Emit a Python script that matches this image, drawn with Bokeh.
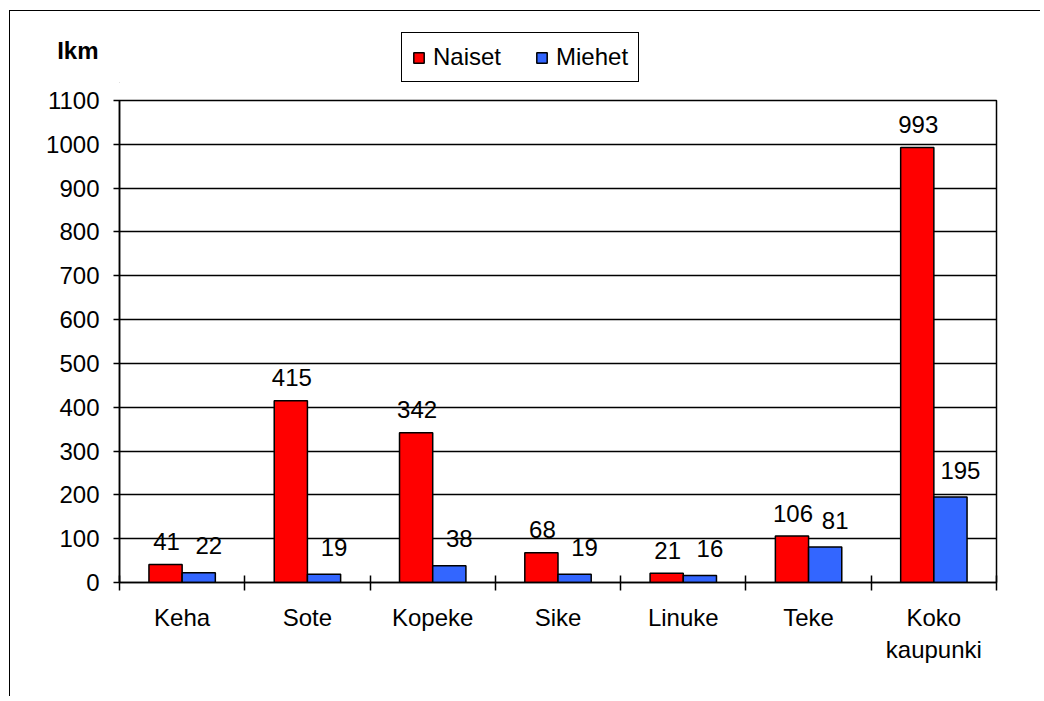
import numpy as np
from bokeh.plotting import figure
from bokeh.layouts import column
from bokeh.models import (ColumnDataSource, FixedTicker, LabelSet, Legend, LegendItem, Range1d)
from bokeh.core.properties import value
from bokeh.transform import dodge
from bokeh.embed import file_html
from bokeh.resources import INLINE

categories = ["Keha", "Sote", "Kopeke", "Sike", "Linuke", "Teke", "Koko\nkaupunki"]
naiset = [41, 415, 342, 68, 21, 106, 993]
miehet = [22, 19, 38, 19, 16, 81, 195]
y_ticks = list(range(0, 1101, 100))
series_names = ["Naiset", "Miehet"]
series_colors = ["#FF0000", "#3366FF"]
unit_label = "Ikm"

FONT = "Liberation Sans"
FS = "24px"
W = 1030
H1 = 72
H2 = 613
LEFT, RIGHT = 109, 44
FRAME_W = W - LEFT - RIGHT

# ---------- header strip: unit label + legend ----------
top = figure(width=W, height=H1, output_backend="svg", toolbar_location=None,
             x_range=Range1d(0, FRAME_W), y_range=Range1d(0, H1),
             min_border_left=LEFT, min_border_right=RIGHT, min_border_top=0, min_border_bottom=0)
top.xaxis.visible = False
top.grid.visible = False
top.outline_line_color = None
top.background_fill_color = "white"
top.border_fill_color = "white"
# unit label shown as the only tick label of an otherwise invisible left axis
top.yaxis.ticker = FixedTicker(ticks=[H1 - 39])
top.yaxis.major_label_overrides = {H1 - 39: unit_label}
top.yaxis.axis_line_color = None
top.yaxis.major_tick_line_color = None
top.yaxis.minor_tick_line_color = None
top.yaxis.major_tick_in = 0
top.yaxis.major_tick_out = 0
top.yaxis.major_label_standoff = 21
top.yaxis.major_label_text_font = FONT
top.yaxis.major_label_text_font_size = FS
top.yaxis.major_label_text_font_style = "bold"
top.yaxis.major_label_text_color = "black"

# legend proxies: one bar each, parked outside the header's visible range
proxy_src = ColumnDataSource(dict(x=[-10 * FRAME_W], top=[0]))
proxies = [top.vbar(x="x", top="top", width=1, source=proxy_src,
                    fill_color=c, line_color="black", line_width=1.5)
           for c in series_colors]
legend = Legend(items=[LegendItem(label=n, renderers=[r]) for n, r in zip(series_names, proxies)],
                orientation="horizontal", location=(282, 1),
                border_line_color="black", border_line_width=1.5, border_line_alpha=1.0,
                background_fill_color="white", background_fill_alpha=1.0,
                label_text_font=FONT, label_text_font_size=FS, label_text_color="black",
                glyph_width=13, glyph_height=13, label_standoff=8, spacing=34,
                padding=10, margin=0)
top.add_layout(legend, "center")

# ---------- main chart ----------
xc = np.arange(len(categories)) + 0.5
src = ColumnDataSource(dict(x=xc, cat=categories, naiset=naiset, miehet=miehet,
                            nl=[str(v) for v in naiset], ml=[str(v) for v in miehet]))

p = figure(width=W, height=H2, output_backend="svg", toolbar_location=None,
           x_range=Range1d(0, len(categories)), y_range=Range1d(0, 1100),
           min_border_left=LEFT, min_border_right=RIGHT, min_border_top=17, min_border_bottom=114)
p.outline_line_color = "black"
p.outline_line_width = 1.5
p.background_fill_color = "white"
p.border_fill_color = "white"

bw = 0.265
p.vbar(x=dodge("x", -bw / 2), top="naiset", width=bw, source=src,
       fill_color=series_colors[0], line_color="black", line_width=1.5)
p.vbar(x=dodge("x", bw / 2), top="miehet", width=bw, source=src,
       fill_color=series_colors[1], line_color="black", line_width=1.5)

p.add_layout(LabelSet(x=dodge("x", -bw / 2), y="naiset", text="nl", source=src,
                      text_align="center", text_baseline="middle", y_offset=23, x_offset=1,
                      text_font=value(FONT), text_font_size=value(FS), text_color="black"))
p.add_layout(LabelSet(x=dodge("x", bw / 2), y="miehet", text="ml", source=src,
                      text_align="center", text_baseline="middle", y_offset=27, x_offset=10,
                      text_font=value(FONT), text_font_size=value(FS), text_color="black"))

p.yaxis.ticker = FixedTicker(ticks=y_ticks)
p.yaxis.axis_line_color = "black"
p.yaxis.axis_line_width = 1.5
p.yaxis.major_tick_in = 0
p.yaxis.major_tick_out = 6
p.yaxis.major_tick_line_width = 1.5
p.yaxis.minor_tick_line_color = None
p.yaxis.major_label_text_font = FONT
p.yaxis.major_label_text_font_size = FS
p.yaxis.major_label_text_color = "black"
p.yaxis.major_label_standoff = 14

p.xaxis.ticker = FixedTicker(ticks=list(xc), minor_ticks=list(range(len(categories) + 1)))
p.xaxis.major_label_overrides = {float(x): c for x, c in zip(xc, categories)}
p.xaxis.major_tick_line_color = None
p.xaxis.major_tick_in = 0
p.xaxis.major_tick_out = 0
p.xaxis.minor_tick_in = 7
p.xaxis.minor_tick_out = 8
p.xaxis.minor_tick_line_width = 1.5
p.xaxis.minor_tick_line_color = "black"
p.xaxis.axis_line_color = "black"
p.xaxis.axis_line_width = 1.5
p.xaxis.major_label_text_font = FONT
p.xaxis.major_label_text_font_size = FS
p.xaxis.major_label_text_color = "black"
p.xaxis.major_label_standoff = 13

p.xgrid.grid_line_color = None
p.ygrid.ticker = FixedTicker(ticks=y_ticks)
p.ygrid.grid_line_color = "black"
p.ygrid.grid_line_width = 1.3

layout = column(top, p, spacing=0)
layout.styles = {"border-left": "1px solid black", "border-top": "1px solid black",
                 "margin-left": "9px", "margin-top": "10px"}

open("out.html", "w").write(file_html(layout, INLINE))
